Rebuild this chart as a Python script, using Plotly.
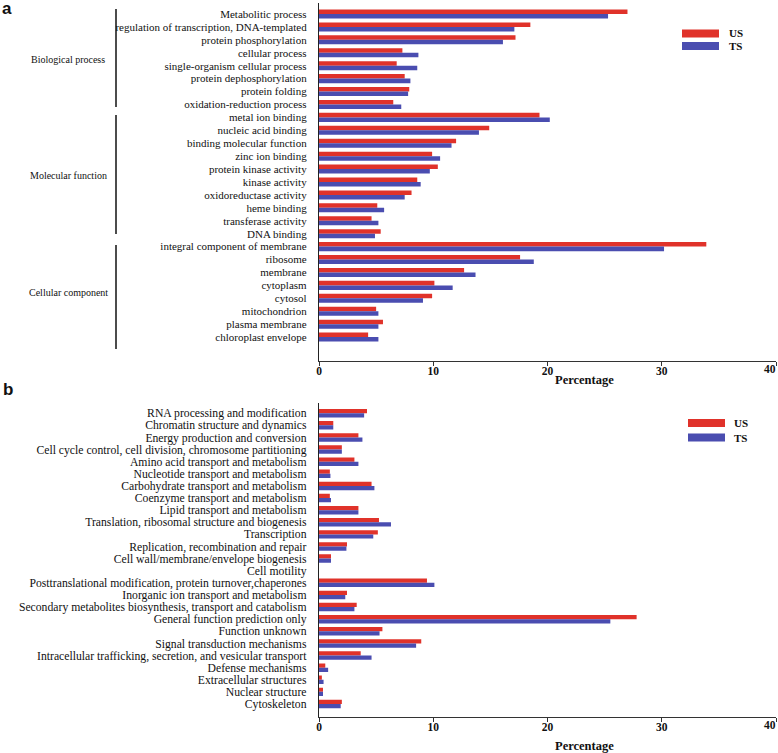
import plotly.graph_objects as go

W, H = 778, 753

# ---------------- data: panel a (GO) ----------------
go_terms = ["Metabolitic process", "regulation of transcription, DNA-templated",
            "protein phosphorylation", "cellular process", "single-organism cellular process",
            "protein dephosphorylation", "protein folding", "oxidation-reduction process",
            "metal ion binding", "nucleic acid binding", "binding molecular function",
            "zinc ion binding", "protein kinase activity", "kinase activity",
            "oxidoreductase activity", "heme binding", "transferase activity", "DNA binding",
            "integral component of membrane", "ribosome", "membrane", "cytoplasm", "cytosol",
            "mitochondrion", "plasma membrane", "chloroplast envelope"]
go_us = [27.0, 18.5, 17.2, 7.3, 6.8, 7.5, 7.9, 6.5,
         19.3, 14.9, 12.0, 9.9, 10.4, 8.6, 8.1, 5.1, 4.6, 5.4,
         33.9, 17.6, 12.7, 10.1, 9.9, 5.0, 5.6, 4.3]
go_ts = [25.3, 17.1, 16.1, 8.7, 8.6, 8.0, 7.8, 7.2,
         20.2, 14.0, 11.6, 10.6, 9.7, 8.9, 7.5, 5.7, 5.2, 4.9,
         30.2, 18.8, 13.7, 11.7, 9.1, 5.2, 5.2, 5.2]
go_groups = ["Biological process", "Molecular function", "Cellular component"]
go_group_sizes = [8, 10, 8]

# ---------------- data: panel b (COG) ----------------
cog_terms = ["RNA processing and modification", "Chromatin structure and dynamics",
             "Energy production and conversion",
             "Cell cycle control, cell division, chromosome partitioning",
             "Amino acid transport and metabolism", "Nucleotide transport and metabolism",
             "Carbohydrate transport and metabolism", "Coenzyme transport and metabolism",
             "Lipid transport and metabolism", "Translation, ribosomal structure and biogenesis",
             "Transcription", "Replication, recombination and repair",
             "Cell wall/membrane/envelope biogenesis", "Cell motility",
             "Posttranslational modification, protein turnover,chaperones",
             "Inorganic ion transport and metabolism",
             "Secondary metabolites biosynthesis, transport and catabolism",
             "General function prediction only", "Function unknown",
             "Signal transduction mechanisms",
             "Intracellular trafficking, secretion, and vesicular transport",
             "Defense mechanisms", "Extracellular structures", "Nuclear structure", "Cytoskeleton"]
cog_us = [4.2, 1.25, 3.45, 2.0, 3.1, 0.95, 4.6, 0.95, 3.45, 5.25, 5.15, 2.45, 1.05, 0.0,
          9.45, 2.45, 3.3, 27.8, 5.55, 8.95, 3.65, 0.55, 0.25, 0.35, 2.0]
cog_ts = [3.95, 1.25, 3.8, 2.0, 3.45, 1.0, 4.85, 1.05, 3.45, 6.3, 4.75, 2.4, 1.05, 0.0,
          10.1, 2.3, 3.1, 25.5, 5.3, 8.5, 4.6, 0.8, 0.4, 0.35, 1.9]

series_names = ["US", "TS"]
x_ticks = [0, 10, 20, 30, 40]
x_ticktext = ["0", "10", "20", "30", ""]   # last label drawn as annotation so it fits the page
x_last_label = "40"
x_title = "Percentage"

RED = "#E0322A"
BLUE = "#4A4DB0"
SERIF = "Liberation Serif"

def px_x(p):
    return p / W

def px_y(p):
    return 1 - p / H

fig = go.Figure()
for name, vals, col in [(series_names[0], go_us, RED), (series_names[1], go_ts, BLUE)]:
    fig.add_trace(go.Bar(y=go_terms, x=vals, orientation="h", name=name,
                         marker=dict(color=col, line=dict(width=0)),
                         xaxis="x", yaxis="y", showlegend=False))
for name, vals, col in [(series_names[0], cog_us, RED), (series_names[1], cog_ts, BLUE)]:
    fig.add_trace(go.Bar(y=cog_terms, x=vals, orientation="h", name=name,
                         marker=dict(color=col, line=dict(width=0)),
                         xaxis="x2", yaxis="y2", showlegend=False))

xdom = [px_x(319), px_x(776)]
ya_dom = [px_y(361), px_y(3)]
yb_dom = [px_y(716.7), px_y(402.7)]

XTICKFONT = dict(family=SERIF, size=11.5, color="#111", weight="bold")
xcommon = dict(range=[0, 40], tickmode="array", tickvals=x_ticks, ticktext=x_ticktext,
               ticks="outside", ticklen=4, tickwidth=1.2,
               tickcolor="#333", showline=True, linecolor="#333", linewidth=1.3,
               showgrid=False, zeroline=False, domain=xdom, ticklabeloverflow="allow",
               ticklabelstandoff=-5, tickfont=XTICKFONT)
ycommon = dict(type="category", showline=True, linecolor="#222", linewidth=1.3,
               showgrid=False, zeroline=False, ticks="", ticklabelstandoff=9)

fig.update_layout(
    width=W, height=H, margin=dict(l=0, r=0, t=0, b=0, autoexpand=False),
    paper_bgcolor="white", plot_bgcolor="white",
    barmode="group", bargap=0.3, bargroupgap=0.0,
    xaxis=dict(anchor="y", **xcommon),
    yaxis=dict(domain=ya_dom, anchor="x", range=[26.85, -0.85],
               tickmode="array", tickvals=go_terms, ticktext=go_terms,
               tickfont=dict(family=SERIF, size=11, color="#111"), **ycommon),
    xaxis2=dict(anchor="y2", **xcommon),
    yaxis2=dict(domain=yb_dom, anchor="x2", range=[25.05, -0.87],
                tickmode="array", tickvals=cog_terms, ticktext=cog_terms,
                tickfont=dict(family=SERIF, size=11.7, color="#111"), **ycommon),
)

shapes = []
annots = []

# group brackets and labels for panel a
row0, step = 14.0, 12.95
brackets = [(9, 107), (115, 234), (245, 349)]
start = 0
for gname, size, (b0, b1) in zip(go_groups, go_group_sizes, brackets):
    shapes.append(dict(type="line", xref="paper", yref="paper",
                       x0=px_x(116), x1=px_x(116), y0=px_y(b0), y1=px_y(b1),
                       line=dict(color="#111", width=1.5)))
    mid = row0 + step * (start + (size - 1) / 2)
    annots.append(dict(text=gname, xref="paper", yref="paper", x=px_x(68), y=px_y(mid),
                       showarrow=False, xanchor="center", yanchor="middle",
                       font=dict(family=SERIF, size=10, color="#111")))
    start += size

# last x tick label ("40"), right-aligned at the page edge
for yy in [369, 725]:
    annots.append(dict(text=x_last_label, xref="paper", yref="paper", x=1.0, y=px_y(yy),
                       showarrow=False, xanchor="right", yanchor="middle",
                       font=XTICKFONT))

# legends
def legend(y_us, y_ts, x0, x1, xt):
    for nm, yc, col in [(series_names[0], y_us, RED), (series_names[1], y_ts, BLUE)]:
        shapes.append(dict(type="rect", xref="paper", yref="paper", x0=px_x(x0), x1=px_x(x1),
                           y0=px_y(yc + 4), y1=px_y(yc - 4), fillcolor=col, line=dict(width=0)))
        annots.append(dict(text=nm, xref="paper", yref="paper", x=px_x(xt), y=px_y(yc),
                           showarrow=False, xanchor="left", yanchor="middle",
                           font=dict(family=SERIF, size=11, color="#111", weight="bold")))

legend(33.5, 46, 682, 719, 727)
legend(423, 437.5, 688, 725, 732)

# axis titles
for yy in [380, 746]:
    annots.append(dict(text=x_title, xref="paper", yref="paper", x=px_x(584), y=px_y(yy),
                       showarrow=False, xanchor="center", yanchor="middle",
                       font=dict(family=SERIF, size=12.5, color="#111", weight="bold")))

# panel letters
annots.append(dict(text="a", xref="paper", yref="paper", x=px_x(0), y=px_y(9),
                   showarrow=False, xanchor="left", yanchor="middle",
                   font=dict(family="Liberation Sans", size=17, color="#111", weight="bold")))
annots.append(dict(text="b", xref="paper", yref="paper", x=px_x(1), y=px_y(389),
                   showarrow=False, xanchor="left", yanchor="middle",
                   font=dict(family="Liberation Sans", size=17, color="#111", weight="bold")))

fig.update_layout(shapes=shapes, annotations=annots)
fig.write_html("out.html", config={"displayModeBar": False},
               post_script="document.body.style.margin='0';document.body.style.overflow='hidden';")
